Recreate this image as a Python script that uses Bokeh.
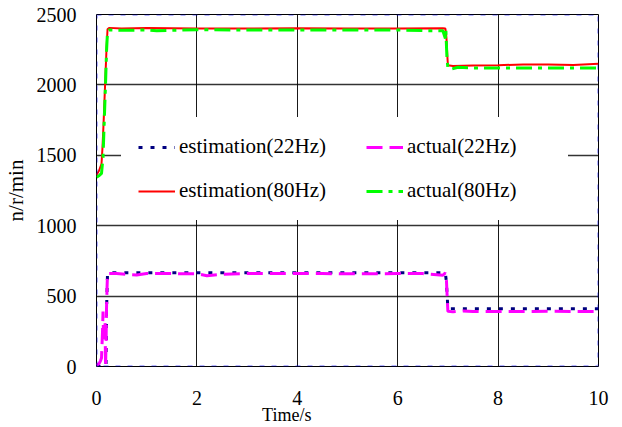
from bokeh.plotting import figure
from bokeh.models import Legend, LegendItem, BoxAnnotation, FixedTicker, Range1d
from bokeh.embed import file_html
from bokeh.resources import INLINE

# ---- data ----
x_ticks = [0, 2, 4, 6, 8, 10]
y_ticks = [0, 500, 1000, 1500, 2000, 2500]

t_e22 = [0, 0.19, 0.2, 0.22, 1.0, 2.0, 3.0, 4.0, 5.0, 6.0, 6.95, 6.97, 7.0, 7.5, 8.0, 9.0, 10.0]
v_e22 = [0, 0, 400, 665, 665, 665, 665, 665, 665, 665, 665, 600, 410, 410, 410, 410, 410]

t_a22 = [0, 0.05, 0.08, 0.1, 0.12, 0.13, 0.14, 0.15, 0.16, 0.17, 0.18, 0.19, 0.2, 0.21, 0.22,
         0.4, 0.8, 0.9, 1.0, 1.5, 2.0, 2.2, 2.5, 3.0, 4.0, 4.5, 5.0, 6.0, 6.5, 6.9,
         6.95, 6.97, 6.99, 7.0, 7.1, 7.3, 7.5, 8.0, 9.0, 10.0]
v_a22 = [10, 20, 40, 60, 250, 390, 200, 290, 240, 320, 0, 150, 420, 560, 660,
         660, 650, 655, 660, 660, 658, 645, 655, 660, 660, 660, 658, 660, 660, 648,
         665, 620, 460, 392, 388, 395, 390, 390, 392, 390]

t_e80 = [0, 0.05, 0.1, 0.12, 0.14, 0.16, 0.18, 0.2, 0.22, 0.25, 0.5, 1.0, 2.0, 3.0, 4.0,
         5.0, 6.0, 6.9, 6.95, 6.97, 6.99, 7.0, 7.1, 7.5, 8.0, 8.5, 9.0, 9.5, 10.0]
v_e80 = [1360, 1390, 1440, 1560, 1720, 1900, 2080, 2260, 2395, 2405, 2400, 2405, 2400, 2400, 2402,
         2400, 2400, 2402, 2400, 2340, 2200, 2140, 2135, 2138, 2140, 2145, 2145, 2142, 2150]

t_a80 = [0, 0.05, 0.1, 0.13, 0.15, 0.18, 0.2, 0.22, 0.25, 0.5, 1.0, 1.2, 2.0, 3.0, 4.0,
         5.0, 6.0, 6.6, 6.9, 6.95, 6.96, 6.97, 6.98, 7.0, 7.05, 7.2, 7.5, 8.0, 9.0, 10.0]
v_a80 = [1345, 1355, 1372, 1485, 1697, 2008, 2242, 2383, 2390, 2388, 2390, 2385, 2392, 2390, 2390,
         2390, 2390, 2385, 2385, 2330, 2390, 2290, 2200, 2120, 2110, 2125, 2120, 2120, 2120, 2120]

labels = ["estimation(22Hz)", "actual(22Hz)", "estimation(80Hz)", "actual(80Hz)"]
x_label = "Time/s"
y_label = "n/r/min"

FONT = "Liberation Serif"

p = figure(width=622, height=427, output_backend="svg", toolbar_location=None,
           x_range=Range1d(0, 10), y_range=Range1d(0, 2500),
           min_border_left=95, min_border_right=24, min_border_top=14, min_border_bottom=60)

p.outline_line_color = "black"
p.outline_line_width = 1

for ax in (p.xaxis[0], p.yaxis[0]):
    ax.axis_line_color = None
    ax.major_tick_line_color = None
    ax.minor_tick_line_color = None
    ax.major_tick_out = 0
    ax.major_tick_in = 0
    ax.minor_tick_out = 0
    ax.minor_tick_in = 0
    ax.major_label_text_font = FONT
    ax.major_label_text_font_size = "20px"
    ax.major_label_text_color = "black"
    ax.axis_label_text_font = FONT
    ax.axis_label_text_font_style = "normal"
    ax.axis_label_text_color = "black"

p.xaxis.ticker = FixedTicker(ticks=x_ticks)
p.yaxis.ticker = FixedTicker(ticks=y_ticks)
p.xaxis.major_label_standoff = 24
p.yaxis.major_label_standoff = 20

p.yaxis.axis_label = y_label
p.yaxis.axis_label_text_font_size = "21px"
p.yaxis.axis_label_standoff = 6

# label sits left of the axis centre in the reference: pad with no-break spaces
p.xaxis.axis_label = x_label + "\u00a0" * 27
p.xaxis.axis_label_text_font_size = "18px"
p.xaxis.axis_label_standoff = -3

p.xgrid.grid_line_color = "black"
p.ygrid.grid_line_color = "black"
p.xgrid.grid_line_alpha = 0.9
p.ygrid.grid_line_alpha = 0.8
p.ygrid.grid_line_width = 1.3

r1 = p.line(t_e22, v_e22, line_color="#000080", line_width=3, line_dash="4 8")
r2 = p.line(t_a22, v_a22, line_color="#ff00ff", line_width=3, line_dash="16 7")
r3 = p.line(t_e80, v_e80, line_color="#ff0000", line_width=2)
r4 = p.line(t_a80, v_a80, line_color="#00ff00", line_width=3, line_dash="16 6 4 6")

common = dict(label_text_font=FONT, label_text_font_size="21px", label_text_color="black",
              label_standoff=4, glyph_width=37, glyph_height=20, label_height=20,
              spacing=19, padding=16, margin=0,
              background_fill_color="white", background_fill_alpha=1.0,
              border_line_color="white", border_line_width=1)

legend_a = Legend(items=[LegendItem(label=labels[0], renderers=[r1]),
                         LegendItem(label=labels[2], renderers=[r3])],
                  location=(25, 146), label_width=160, **common)
legend_b = Legend(items=[LegendItem(label=labels[1], renderers=[r2]),
                         LegendItem(label=labels[3], renderers=[r4])],
                  location=(253, 146), label_width=144, **common)
p.add_layout(legend_a, "center")
p.add_layout(legend_b, "center")

frame_box = BoxAnnotation(fill_alpha=0, line_color="#0000ff", line_width=3, line_dash="5 7")
p.add_layout(frame_box)

open("out.html", "w").write(file_html(p, INLINE))
